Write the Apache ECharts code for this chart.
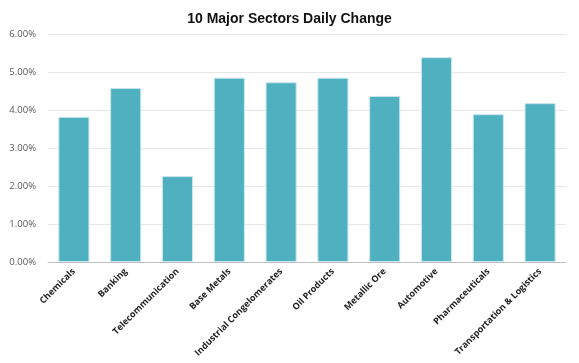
<!DOCTYPE html>
<html><head><meta charset="utf-8">
<script src="https://cdn.jsdelivr.net/npm/echarts@6/dist/echarts.min.js"></script>
<style>html,body{margin:0;padding:0;background:#fff}#c{width:579px;height:363px}</style>
</head><body><div id="c"></div>
<script>
const categories = ["Chemicals","Banking","Telecommunication","Base Metals","Industrial Congelomerates","Oil Products","Metallic Ore","Automotive","Pharmaceuticals","Transportation & Logistics"];
const values = [3.82, 4.58, 2.26, 4.85, 4.73, 4.85, 4.37, 5.39, 3.89, 4.18];
const chart = echarts.init(document.getElementById('c'), null, {renderer:'canvas'});
chart.setOption({
  animation:false,
  backgroundColor:'#fff',
  title:{text:'10 Major Sectors Daily Change', left:'center', top:7,
    textStyle:{fontFamily:'Liberation Sans', fontSize:14, fontWeight:'bold', color:'#111'}},
  grid:{left:48, right:13, top:34, bottom:101},
  xAxis:{type:'category', data:categories,
    axisLine:{lineStyle:{color:'#bfbfbf'}}, axisTick:{show:false},
    axisLabel:{rotate:45, interval:0, fontFamily:'Open Sans', fontSize:9, fontWeight:'bold', color:'#222', margin:8}},
  yAxis:{type:'value', min:0, max:6, interval:1,
    axisLine:{show:false}, axisTick:{show:false},
    splitLine:{lineStyle:{color:'#e6e6e6'}},
    axisLabel:{formatter:v=>v.toFixed(2)+'%', fontFamily:'Open Sans', fontSize:9.5, color:'#595959', margin:12}},
  series:[{type:'bar', data:values, barCategoryGap:'40%',
    itemStyle:{color:'#4fb0c0', borderColor:'#c9e6ec', borderWidth:1}}]
});
</script></body></html>
